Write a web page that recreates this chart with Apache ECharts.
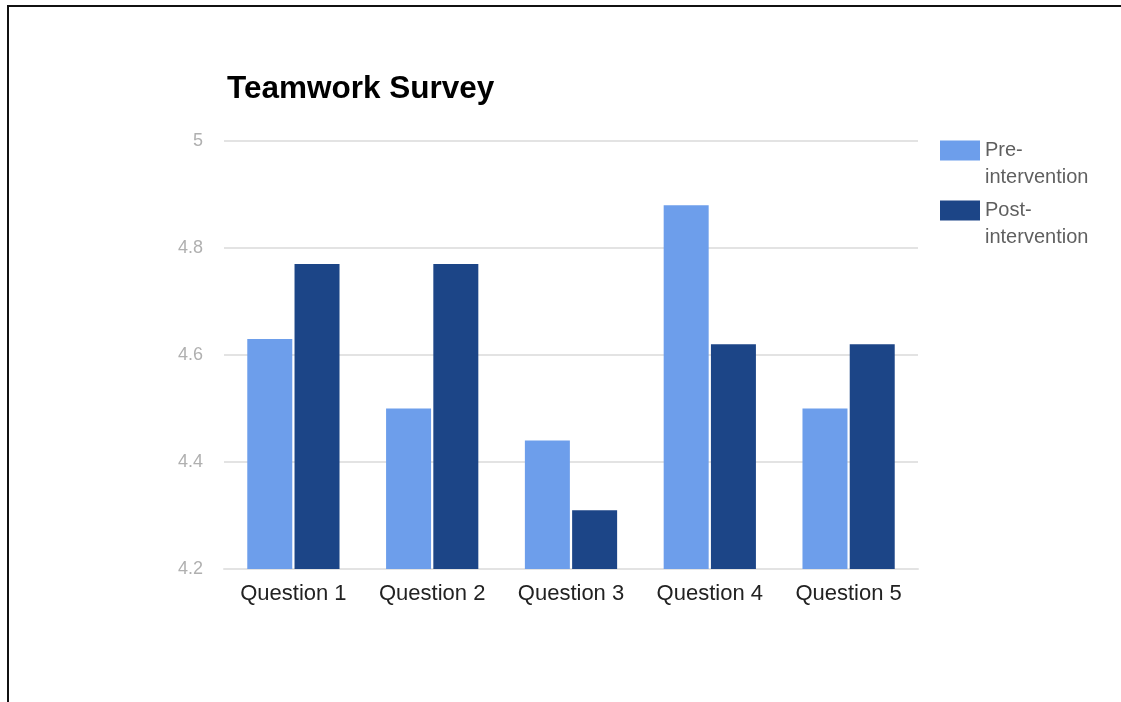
<!DOCTYPE html>
<html>
<head>
<meta charset="utf-8">
<script src="https://cdn.jsdelivr.net/npm/echarts@6/dist/echarts.min.js"></script>
<style>
html,body{margin:0;padding:0;background:#fff;}
#chart{width:1121px;height:702px;}
</style>
</head>
<body>
<div id="chart"></div>
<script>
const categories = ['Question 1', 'Question 2', 'Question 3', 'Question 4', 'Question 5'];
const preValues = [4.63, 4.50, 4.44, 4.88, 4.50];
const postValues = [4.77, 4.77, 4.31, 4.62, 4.62];
const seriesNames = ['Pre-intervention', 'Post-intervention'];
const yMin = 4.2, yMax = 5, yStep = 0.2;

const FONT = '"Liberation Sans", Arial, sans-serif';
const chart = echarts.init(document.getElementById('chart'), null, {renderer: 'canvas'});

function legendFor(name, top) {
  return {
    data: [name],
    orient: 'vertical',
    left: 940,
    top: top,
    padding: 0,
    itemWidth: 40,
    itemHeight: 20,
    icon: 'rect',
    selectedMode: false,
    formatter: n => ' \n' + n.replace('-', '-\n'),
    textStyle: {
      fontFamily: FONT,
      fontSize: 20,
      lineHeight: 27,
      color: '#5f5f5f'
    }
  };
}

chart.setOption({
  animation: false,
  backgroundColor: '#fff',
  title: {
    text: 'Teamwork Survey',
    left: 222,
    top: 68,
    textStyle: {fontFamily: FONT, fontSize: 31.5, fontWeight: 'bold', color: '#000'}
  },
  legend: [legendFor(seriesNames[0], 110), legendFor(seriesNames[1], 170)],
  grid: {left: 224, right: 203, top: 141, bottom: 133, containLabel: false},
  xAxis: {
    type: 'category',
    data: categories,
    axisLine: {show: true, lineStyle: {color: '#e3e3e3', width: 2}},
    axisTick: {show: false},
    axisLabel: {fontFamily: FONT, fontSize: 22, color: '#222', margin: 14}
  },
  yAxis: {
    type: 'value',
    min: yMin,
    max: yMax,
    interval: yStep,
    axisLine: {show: false},
    axisTick: {show: false},
    splitLine: {lineStyle: {color: '#e3e3e3', width: 2}},
    axisLabel: {
      fontFamily: FONT, fontSize: 18, color: '#b0b0b0', margin: 21,
      padding: [4, 0, 0, 0],
      formatter: v => String(Math.round(v * 10) / 10)
    }
  },
  series: [
    {name: seriesNames[0], type: 'bar', data: preValues, barWidth: 45, barGap: '5%',
     itemStyle: {color: '#6d9eeb'}},
    {name: seriesNames[1], type: 'bar', data: postValues, barWidth: 45, barGap: '5%',
     itemStyle: {color: '#1c4587'}}
  ],
  graphic: [
    {type: 'rect', silent: true, shape: {x: 7, y: 5, width: 1114, height: 2}, style: {fill: '#111'}},
    {type: 'rect', silent: true, shape: {x: 7, y: 5, width: 2, height: 697}, style: {fill: '#111'}}
  ]
});
</script>
</body>
</html>
